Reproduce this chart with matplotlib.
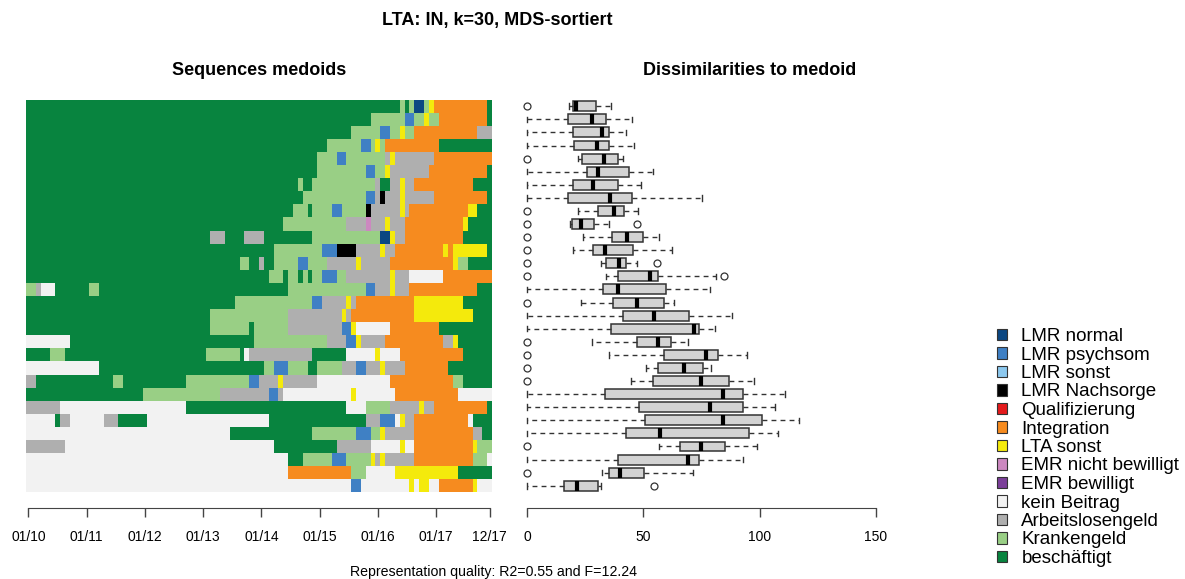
import numpy as np
import matplotlib
matplotlib.use("Agg")
import matplotlib.pyplot as plt
from matplotlib.colors import ListedColormap
from matplotlib.patches import Patch

plt.rcParams["font.family"] = ["Liberation Sans", "DejaVu Sans"]

# alphabet of the sequences (legend order) -- one letter code per state
state_codes = ["N", "P", "S", "X", "Q", "I", "Y", "E", "F", "W", "A", "K", "B"]
state_labels = ["LMR normal", "LMR psychsom", "LMR sonst", "LMR Nachsorge",
                "Qualifizierung", "Integration", "LTA sonst", "EMR nicht bewilligt",
                "EMR bewilligt", "kein Beitrag", "Arbeitslosengeld", "Krankengeld",
                "beschäftigt"]
state_colors = ["#0B4782", "#3F80C4", "#8CC8EE", "#000000", "#E41A1C", "#F68B1F",
                "#F4EA0C", "#CC88C0", "#7B3F99", "#F2F2F2", "#AFAFAF", "#99CF85",
                "#08843F"]

n_months = 96
month_labels = ["01/10", "01/11", "01/12", "01/13", "01/14", "01/15", "01/16", "01/17", "12/17"]
month_tick_idx = [0, 12, 24, 36, 48, 60, 72, 84, 95]

# 30 medoid sequences, run length coded: state code + number of months
medoid_runs = [
    "B77 K1 B1 K1 N2 K1 Y1 I11 B1",
    "B71 K7 P2 K2 Y1 K2 I10 B1",
    "B67 K6 P2 K2 Y1 K2 I13 A3",
    "B62 K7 P2 K1 Y1 K1 I11 B11",
    "B60 K4 P2 K8 A1 Y1 A8 I12",
    "B60 K10 P2 K2 Y1 A8 I12 B1",
    "B56 K1 B2 K13 A1 B2 A2 Y1 A2 I12 B4",
    "B57 K13 P2 A1 X1 A3 Y1 A6 I11 B1",
    "B55 K3 B1 K4 P2 K5 X1 A6 Y1 A1 I12 Y2 B3",
    "B53 K13 A4 E1 A3 Y1 A3 I12 Y1 B5",
    "B38 A3 B4 A4 B10 K14 N2 Y1 A2 I12 B6",
    "B51 K10 P3 X4 A5 Y1 A2 I10 Y1 I1 Y7 B1",
    "B44 K2 B2 A1 B2 K5 P2 K4 A6 Y1 A6 I13 Y1 K2 B5",
    "B50 K3 B1 K2 B1 K1 B1 K2 P3 K2 A9 Y1 A3 W7 I10",
    "K2 A1 W3 B7 K2 B39 K16 P2 A3 Y1 A3 I14 B3",
    "B43 K16 P2 A5 Y1 A1 I12 Y10 B6",
    "B38 K16 A11 Y1 A1 I13 Y12 B4",
    "B38 K8 B1 K7 A11 P2 Y1 W7 I10 B11",
    "W9 B38 K15 A4 P2 Y1 A5 I12 A2 Y1 B7",
    "B5 K3 B29 K7 B1 W1 A13 B7 W6 Y1 W4 I13 B6",
    "W15 B34 K2 P3 K4 B2 K5 A3 P2 A3 Y1 A4 I9 B9",
    "A2 B16 K2 B13 K13 P2 A4 Y1 A7 W15 I13 K2 B6",
    "B24 K16 A10 P2 A1 W14 Y1 W8 I13 W7",
    "A7 W26 B33 W4 K5 A6 Y1 A2 I11 B1",
    "W6 B1 A2 W7 A3 B6 W25 B20 A3 P3 W1 Y1 A2 I11 W1 B4",
    "W42 B17 K9 P3 K2 Y1 A6 I12 A2 B2",
    "A8 W43 B13 A7 W6 Y1 W2 I12 Y1 K3",
    "W54 B3 K6 P3 K5 Y1 A1 Y1 A6 I12 K3 W1",
    "W54 I13 K3 W6 Y13 B7",
    "W67 P2 W10 Y1 W1 Y2 W2 I7 Y1 W3",
]

# dissimilarities to medoid, boxplot statistics per cluster
diss_whislo = [17.9, 0, 0, 0, 21.7, 0, 0, 0, 22.0, 18.5, 24.1, 19.8, 31.7, 33.7, 0,
               23.1, 0, 0, 27.7, 35.3, 50.9, 44.5, 0, 0, 0, 0, 56.8, 0, 32.0, 0]
diss_q1 = [19.8, 17.7, 19.8, 20.2, 23.7, 25.7, 19.8, 17.7, 30.6, 19.4, 36.5, 28.4, 33.9,
           38.9, 32.7, 36.7, 41.0, 36.0, 47.4, 59.0, 56.4, 54.0, 33.6, 48.2, 50.7, 42.3,
           65.7, 38.9, 35.3, 15.9]
diss_med = [20.8, 27.7, 32.3, 29.9, 33.2, 30.6, 28.4, 35.7, 37.3, 23.1, 42.8, 33.4, 39.6,
            52.8, 39.2, 47.4, 54.4, 71.9, 56.4, 76.9, 67.4, 74.8, 84.4, 78.6, 84.4, 57.3,
            74.8, 69.0, 39.8, 21.4]
diss_q3 = [29.4, 33.7, 35.3, 35.3, 39.2, 43.8, 39.2, 45.2, 41.6, 28.7, 49.9, 45.6, 42.3,
           56.1, 59.5, 59.0, 69.7, 74.0, 61.9, 81.9, 75.8, 86.9, 92.7, 92.7, 101.2, 95.3,
           85.2, 74.0, 50.2, 30.3]
diss_whishi = [36.0, 45.2, 42.5, 46.1, 41.3, 54.2, 48.9, 75.1, 47.8, 35.3, 56.8, 62.4, 47.4,
               81.1, 78.6, 63.3, 88.3, 80.8, 69.0, 94.6, 78.9, 97.4, 110.9, 106.6, 116.9,
               107.8, 98.7, 92.8, 71.2, 31.7]
diss_fliers = [[0], [], [], [], [0], [], [], [], [0], [0, 47.4], [0], [0], [0, 56.0],
               [0, 84.8], [], [0], [], [], [0], [0], [0], [0], [], [], [], [], [0], [], [0],
               [54.4]]
diss_ticks = [0, 50, 100, 150]

# decode the run lengths into a state matrix
seq = np.zeros((len(medoid_runs), n_months), dtype=int)
for i, row in enumerate(medoid_runs):
    states = []
    for run in row.split():
        states += [state_codes.index(run[0])] * int(run[1:])
    seq[i] = states

n_clust = len(medoid_runs)
W, H = 1185, 579
fig = plt.figure(figsize=(W / 100, H / 100), dpi=100)

axis_col = "#444444"
title_size = 13

# ---- left: sequence medoids
ax1 = fig.add_axes([26 / W, 1 - 492.3 / H, 466 / W, 392.6 / H])
ax1.pcolormesh(np.arange(n_months + 1), np.arange(n_clust + 1), seq,
               cmap=ListedColormap(state_colors), vmin=-0.5, vmax=len(state_codes) - 0.5,
               shading="flat", edgecolors="none", antialiased=False)
ax1.set_xlim(0, n_months)
ax1.set_ylim(n_clust, 0)
ax1.set_xticks(np.array(month_tick_idx) + 0.5)
ax1.set_xticklabels(month_labels)
ax1.set_yticks([])
ax1.set_title("Sequences medoids", fontsize=title_size, fontweight="bold", pad=18)

# ---- right: dissimilarities boxplots
ax2 = fig.add_axes([510 / W, 1 - 492.3 / H, 480 / W, 392.6 / H])
stats = []
for i in range(n_clust):
    stats.append(dict(whislo=diss_whislo[i], q1=diss_q1[i], med=diss_med[i],
                      q3=diss_q3[i], whishi=diss_whishi[i], fliers=diss_fliers[i]))
ax2.bxp(stats, positions=np.arange(n_clust) + 0.5, widths=0.76, capwidths=0.42,
        orientation="horizontal", patch_artist=True,
        boxprops=dict(facecolor="#D3D3D3", edgecolor="#333333", linewidth=1.1),
        medianprops=dict(color="black", linewidth=3, solid_capstyle="butt"),
        whiskerprops=dict(color="#333333", linewidth=1, linestyle=(0, (3.5, 3))),
        capprops=dict(color="#333333", linewidth=1),
        flierprops=dict(marker="o", markerfacecolor="none", markeredgecolor="#333333",
                        markersize=5, markeredgewidth=0.9))
ax2.set_xlim(-17.3 / 2.3227, (990 - 527.3) / 2.3227)
ax2.set_ylim(n_clust, 0)
ax2.set_xticks(diss_ticks)
ax2.set_xticklabels([str(t) for t in diss_ticks])
ax2.set_yticks([])
ax2.set_title("Dissimilarities to medoid", fontsize=title_size, fontweight="bold", pad=18)

# R-like detached x axes
for ax, lo, hi in [(ax1, month_tick_idx[0] + 0.5, month_tick_idx[-1] + 0.5), (ax2, 0, 150)]:
    for s in ["top", "left", "right"]:
        ax.spines[s].set_visible(False)
    ax.spines["bottom"].set_position(("outward", 11.5))
    ax.spines["bottom"].set_bounds(lo, hi)
    ax.spines["bottom"].set_color(axis_col)
    ax.tick_params(axis="x", length=6.5, width=1, color=axis_col, labelsize=10, pad=9)

fig.text(497 / W, 1 - 21 / H, "LTA: IN, k=30, MDS-sortiert", ha="center", va="center",
         fontsize=title_size, fontweight="bold")
fig.text(494 / W, 1 - 572 / H, "Representation quality: R2=0.55 and F=12.24",
         ha="center", va="center", fontsize=10.2)

handles = [Patch(facecolor=c, edgecolor="#333333", linewidth=0.8) for c in state_colors]
fig.legend(handles, state_labels, loc="upper left", bbox_to_anchor=(997 / W, 1 - 328 / H),
           frameon=False, fontsize=13.5, handlelength=0.55, handleheight=0.55,
           handletextpad=0.75, labelspacing=0.08, borderpad=0, borderaxespad=0)

fig.savefig("out.png", dpi=100)
